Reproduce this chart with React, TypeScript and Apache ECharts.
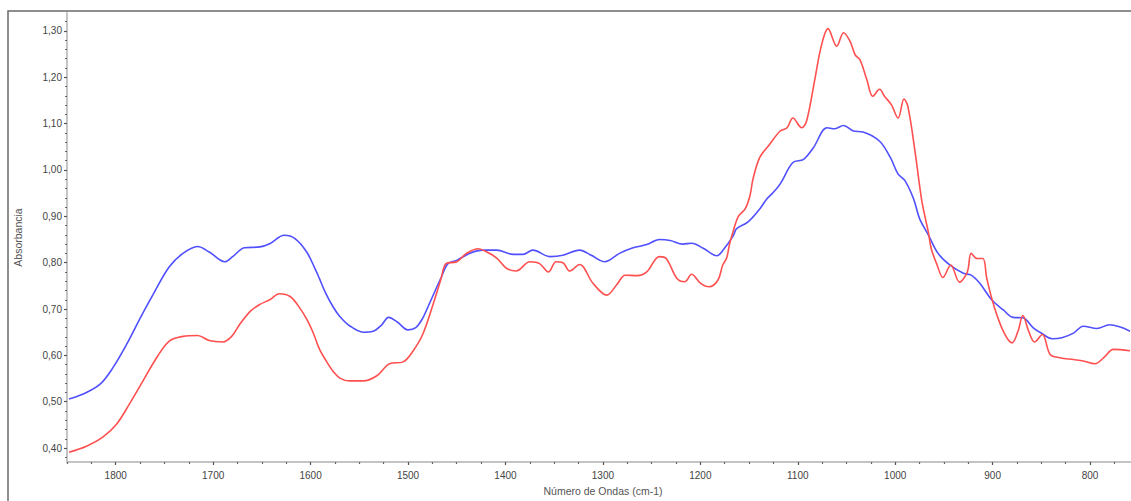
import React, { useEffect, useRef } from "react";
import * as echarts from "echarts";

// Wavenumbers (cm-1) and absorbance
const blueWavenumbers = [1848, 1834, 1816, 1803, 1789, 1775, 1762, 1745, 1731, 1716, 1704, 1688, 1680, 1668, 1652, 1642, 1627, 1616, 1604, 1595, 1591, 1584, 1577, 1570, 1560, 1546, 1536, 1527, 1520, 1511, 1500, 1492, 1485, 1478, 1466, 1459, 1450, 1437, 1423, 1409, 1392, 1382, 1372, 1354, 1341, 1324, 1312, 1298, 1283, 1269, 1255, 1242, 1231, 1218, 1209, 1197, 1183, 1177, 1166, 1163, 1151, 1139, 1132, 1125, 1118, 1105, 1094, 1084, 1070, 1062, 1053, 1043, 1033, 1016, 1005, 997, 990, 981, 975, 966, 956, 944, 930, 922, 913, 901, 889, 879, 869, 858, 850, 839, 829, 817, 807, 793, 780, 769, 759];
const blueAbsorbance = [0.506, 0.516, 0.538, 0.573, 0.623, 0.680, 0.730, 0.791, 0.820, 0.835, 0.823, 0.802, 0.813, 0.832, 0.834, 0.841, 0.859, 0.852, 0.823, 0.785, 0.766, 0.732, 0.705, 0.684, 0.664, 0.650, 0.652, 0.666, 0.682, 0.672, 0.655, 0.660, 0.680, 0.712, 0.768, 0.798, 0.805, 0.820, 0.827, 0.827, 0.818, 0.818, 0.827, 0.813, 0.816, 0.827, 0.816, 0.802, 0.820, 0.832, 0.839, 0.850, 0.848, 0.840, 0.842, 0.831, 0.815, 0.826, 0.859, 0.873, 0.888, 0.916, 0.937, 0.952, 0.970, 1.016, 1.023, 1.048, 1.091, 1.089, 1.096, 1.084, 1.082, 1.062, 1.027, 0.991, 0.977, 0.937, 0.895, 0.860, 0.820, 0.795, 0.777, 0.773, 0.755, 0.720, 0.698, 0.682, 0.681, 0.659, 0.648, 0.636, 0.638, 0.648, 0.663, 0.658, 0.666, 0.661, 0.652];

const redWavenumbers = [1848, 1830, 1813, 1799, 1786, 1772, 1758, 1745, 1731, 1716, 1704, 1690, 1681, 1673, 1662, 1652, 1642, 1632, 1621, 1611, 1604, 1598, 1591, 1584, 1577, 1570, 1560, 1546, 1532, 1519, 1505, 1495, 1485, 1474, 1466, 1461, 1450, 1440, 1428, 1419, 1409, 1399, 1389, 1375, 1365, 1356, 1348, 1341, 1334, 1324, 1310, 1296, 1286, 1277, 1265, 1255, 1242, 1235, 1224, 1216, 1209, 1200, 1191, 1182, 1177, 1173, 1170, 1166, 1161, 1154, 1149, 1146, 1139, 1129, 1118, 1111, 1105, 1096, 1091, 1082, 1076, 1069, 1060, 1053, 1046, 1041, 1036, 1029, 1023, 1016, 1011, 1004, 997, 991, 987, 980, 973, 969, 966, 963, 957, 951, 943, 934, 926, 922, 916, 910, 906, 899, 889, 880, 874, 869, 863, 857, 849, 841, 831, 817, 807, 795, 786, 776, 759];
const redAbsorbance = [0.391, 0.404, 0.424, 0.452, 0.495, 0.545, 0.595, 0.631, 0.641, 0.643, 0.632, 0.629, 0.641, 0.666, 0.695, 0.710, 0.720, 0.733, 0.727, 0.702, 0.678, 0.652, 0.614, 0.588, 0.566, 0.551, 0.545, 0.545, 0.556, 0.582, 0.586, 0.609, 0.645, 0.712, 0.766, 0.798, 0.802, 0.820, 0.830, 0.823, 0.810, 0.788, 0.782, 0.802, 0.798, 0.780, 0.802, 0.800, 0.782, 0.796, 0.755, 0.730, 0.752, 0.773, 0.772, 0.780, 0.813, 0.809, 0.766, 0.759, 0.775, 0.756, 0.748, 0.762, 0.795, 0.810, 0.840, 0.870, 0.900, 0.916, 0.945, 0.980, 1.027, 1.055, 1.084, 1.091, 1.112, 1.091, 1.105, 1.201, 1.266, 1.305, 1.267, 1.296, 1.276, 1.248, 1.237, 1.194, 1.159, 1.174, 1.159, 1.141, 1.112, 1.153, 1.137, 1.045, 0.937, 0.895, 0.866, 0.830, 0.795, 0.768, 0.795, 0.758, 0.780, 0.820, 0.809, 0.809, 0.766, 0.709, 0.652, 0.627, 0.652, 0.686, 0.652, 0.629, 0.645, 0.602, 0.595, 0.591, 0.588, 0.582, 0.595, 0.613, 0.610];

// Tick labels
const xTickValues = [800, 900, 1000, 1100, 1200, 1300, 1400, 1500, 1600, 1700, 1800];
const yTickValues = [0.4, 0.5, 0.6, 0.7, 0.8, 0.9, 1.0, 1.1, 1.2, 1.3];

const X_MIN = 758;
const X_MAX = 1850;
const Y_MIN = 0.37;
const Y_MAX = 1.3386;

const xMinorTicks: number[] = [];
for (let v = 775; v <= X_MAX; v += 25) if (v % 100 !== 0) xMinorTicks.push(v);
const yMinorTicks: number[] = [];
for (let i = 0; i < yTickValues.length; i++) {
  for (let k = -4; k <= 4; k++) {
    if (k === 0) continue;
    const v = Math.round((yTickValues[i] + k * 0.02) * 100) / 100;
    if (v > Y_MIN && v < Y_MAX && !yMinorTicks.includes(v) && !yTickValues.some((t) => Math.abs(t - v) < 1e-6)) yMinorTicks.push(v);
  }
}

const FONT = "Liberation Sans, Arial, sans-serif";

export default function App() {
  const ref = useRef<HTMLDivElement>(null);
  useEffect(() => {
    if (!ref.current) return;
    const chart = echarts.init(ref.current, undefined, { renderer: "svg" });
    const axisLineStyle = { color: "#c4c4c4", width: 2 };
    chart.setOption({
      animation: false,
      backgroundColor: "#ffffff",
      grid: { left: 67, right: 0, top: 13, bottom: 36, containLabel: false },
      graphic: [
        {
          type: "rect",
          z: -1,
          shape: { x: 8, y: 11, width: 1140, height: 510 },
          style: { fill: "none", stroke: "#6a6a6a", lineWidth: 1.5 },
        },
      ],
      xAxis: [
        {
          type: "value",
          min: X_MIN,
          max: X_MAX,
          inverse: true,
          position: "bottom",
          name: "Número de Ondas (cm-1)",
          nameLocation: "middle",
          nameGap: 23,
          nameTextStyle: { fontFamily: FONT, fontSize: 10.5, color: "#555", padding: [0, 0, 0, 8] },
          axisLine: { onZero: false, lineStyle: axisLineStyle },
          axisTick: { show: true, customValues: xTickValues, length: 3, lineStyle: { color: "#555", width: 1.2 } },
          axisLabel: {
            customValues: xTickValues,
            margin: 8,
            fontFamily: FONT,
            fontSize: 10,
            color: "#444",
            formatter: (v: number) => String(Math.round(v)),
          },
          splitLine: { show: false },
        },
        {
          type: "value",
          min: X_MIN,
          max: X_MAX,
          inverse: true,
          position: "bottom",
          axisLine: { show: false, onZero: false },
          axisTick: { show: true, customValues: xMinorTicks, length: 2, lineStyle: { color: "#666", width: 1.2 } },
          axisLabel: { show: false },
          splitLine: { show: false },
        },
      ],
      yAxis: [
        {
          type: "value",
          min: Y_MIN,
          max: Y_MAX,
          position: "left",
          name: "Absorbancia",
          nameLocation: "middle",
          nameGap: 44,
          nameTextStyle: { fontFamily: FONT, fontSize: 10.5, color: "#555" },
          axisLine: { show: true, onZero: false, lineStyle: axisLineStyle },
          axisTick: { show: true, customValues: yTickValues, length: 3, lineStyle: { color: "#555", width: 1.2 } },
          axisLabel: {
            customValues: yTickValues,
            margin: 5,
            fontFamily: FONT,
            fontSize: 10,
            color: "#444",
            formatter: (v: number) => v.toFixed(2).replace(".", ","),
          },
          splitLine: { show: false },
        },
        {
          type: "value",
          min: Y_MIN,
          max: Y_MAX,
          position: "left",
          axisLine: { show: false, onZero: false },
          axisTick: { show: true, customValues: yMinorTicks, length: 2, lineStyle: { color: "#666", width: 1.2 } },
          axisLabel: { show: false },
          splitLine: { show: false },
        },
      ],
      series: [
        {
          type: "line",
          name: "blue",
          xAxisIndex: 0,
          yAxisIndex: 0,
          data: blueWavenumbers.map((w, i) => [w, blueAbsorbance[i]]),
          showSymbol: false,
          smooth: 0.35,
          lineStyle: { color: "#5050ff", width: 1.6 },
          itemStyle: { color: "#5050ff" },
        },
        {
          type: "line",
          name: "red",
          xAxisIndex: 0,
          yAxisIndex: 0,
          data: redWavenumbers.map((w, i) => [w, redAbsorbance[i]]),
          showSymbol: false,
          smooth: 0.35,
          lineStyle: { color: "#ff5050", width: 1.6 },
          itemStyle: { color: "#ff5050" },
        },
      ],
    });
    return () => chart.dispose();
  }, []);
  return (
    <div
      ref={ref}
      style={{ position: "fixed", left: 0, top: 0, width: 1131, height: 501 }}
    />
  );
}
